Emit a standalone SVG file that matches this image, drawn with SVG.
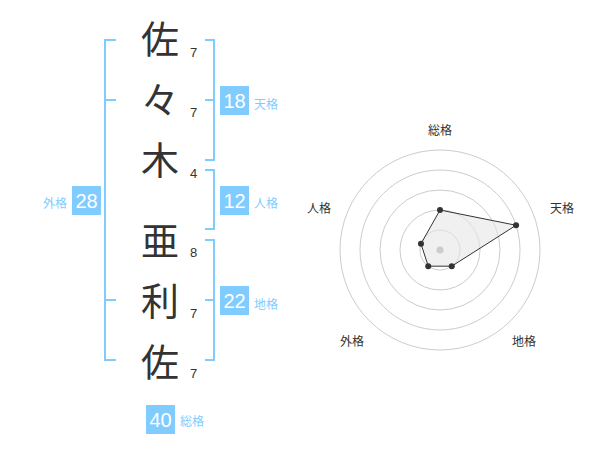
<svg xmlns="http://www.w3.org/2000/svg" width="600" height="470" viewBox="0 0 600 470">
<style>
.ch{font-family:"Noto Sans CJK JP","Noto Sans CJK SC",sans-serif;font-size:38px;fill:#333;text-anchor:middle}
.num{font-family:"Liberation Sans",Arial,sans-serif;font-size:13px;fill:#333}
.br{fill:none;stroke:#80ccff;stroke-width:2}
.box{fill:#80ccff}
.bt{font-family:"Liberation Sans",Arial,sans-serif;font-size:20px;fill:#fff;text-anchor:middle}
.lb{font-family:"Noto Sans CJK JP","Noto Sans CJK SC",sans-serif;font-size:12px;fill:#80ccff}
.rl{font-family:"Noto Sans CJK JP","Noto Sans CJK SC",sans-serif;font-size:12px;fill:#333;text-anchor:middle}
.ring{fill:none;stroke:#ccc;stroke-width:1}
.pt{fill:#333}
</style>
<rect width="600" height="470" fill="#fff"/>
<g id="names">
<text class="ch" x="160" y="53">佐</text>
<text class="ch" x="160" y="114">々</text>
<text class="ch" x="160" y="174">木</text>
<text class="ch" x="160" y="255">亜</text>
<text class="ch" x="160" y="315">利</text>
<text class="ch" x="160" y="376">佐</text>
<text class="num" x="190" y="57">7</text>
<text class="num" x="190" y="117">7</text>
<text class="num" x="190" y="178">4</text>
<text class="num" x="190" y="257">8</text>
<text class="num" x="190" y="318">7</text>
<text class="num" x="190" y="378">7</text>
</g>
<g id="connectors">
<path class="br" d="M116,40 H105 V360 H116 M105,100 H116 M105,300 H116"/>
<path class="br" d="M205,40 H214 V160 H205 M214,100 H205"/>
<path class="br" d="M205,170 H214 V229 H205"/>
<path class="br" d="M205,240 H214 V360 H205 M214,300 H205"/>
</g>
<g id="tenkaku">
<rect class="box" x="220" y="86" width="29" height="29"/>
<text class="bt" x="234.5" y="108">18</text>
<text class="lb" x="254" y="109">天格</text>
</g>
<g id="jinkaku">
<rect class="box" x="220" y="186" width="29" height="29"/>
<text class="bt" x="234.5" y="208">12</text>
<text class="lb" x="254" y="208">人格</text>
</g>
<g id="chikaku">
<rect class="box" x="220" y="286" width="29" height="29"/>
<text class="bt" x="234.5" y="308">22</text>
<text class="lb" x="254" y="309">地格</text>
</g>
<g id="gaikaku">
<rect class="box" x="72" y="186" width="29" height="29"/>
<text class="bt" x="86.5" y="208">28</text>
<text class="lb" x="67" y="208" text-anchor="end">外格</text>
</g>
<g id="soukaku">
<rect class="box" x="146" y="405" width="29" height="29"/>
<text class="bt" x="160.5" y="427">40</text>
<text class="lb" x="180" y="426">総格</text>
</g>
<g id="radar">
<circle class="ring" cx="440" cy="250" r="20"/>
<circle class="ring" cx="440" cy="250" r="40"/>
<circle class="ring" cx="440" cy="250" r="60"/>
<circle class="ring" cx="440" cy="250" r="80"/>
<circle class="ring" cx="440" cy="250" r="100"/>
<polygon points="440,210 516.08,225.28 451.76,266.18 428.24,266.18 420.98,243.82" fill="#e6e6e6" fill-opacity="0.6" stroke="#333" stroke-width="1"/>
<circle cx="440" cy="250" r="3.5" fill="#ccc"/>
<circle class="pt" cx="440" cy="210" r="3"/>
<circle class="pt" cx="516.08" cy="225.28" r="3"/>
<circle class="pt" cx="451.76" cy="266.18" r="3"/>
<circle class="pt" cx="428.24" cy="266.18" r="3"/>
<circle class="pt" cx="420.98" cy="243.82" r="3"/>
<text class="rl" x="440" y="135">総格</text>
<text class="rl" x="562" y="213">天格</text>
<text class="rl" x="319" y="213">人格</text>
<text class="rl" x="352" y="346">外格</text>
<text class="rl" x="524" y="346">地格</text>
</g>
</svg>
